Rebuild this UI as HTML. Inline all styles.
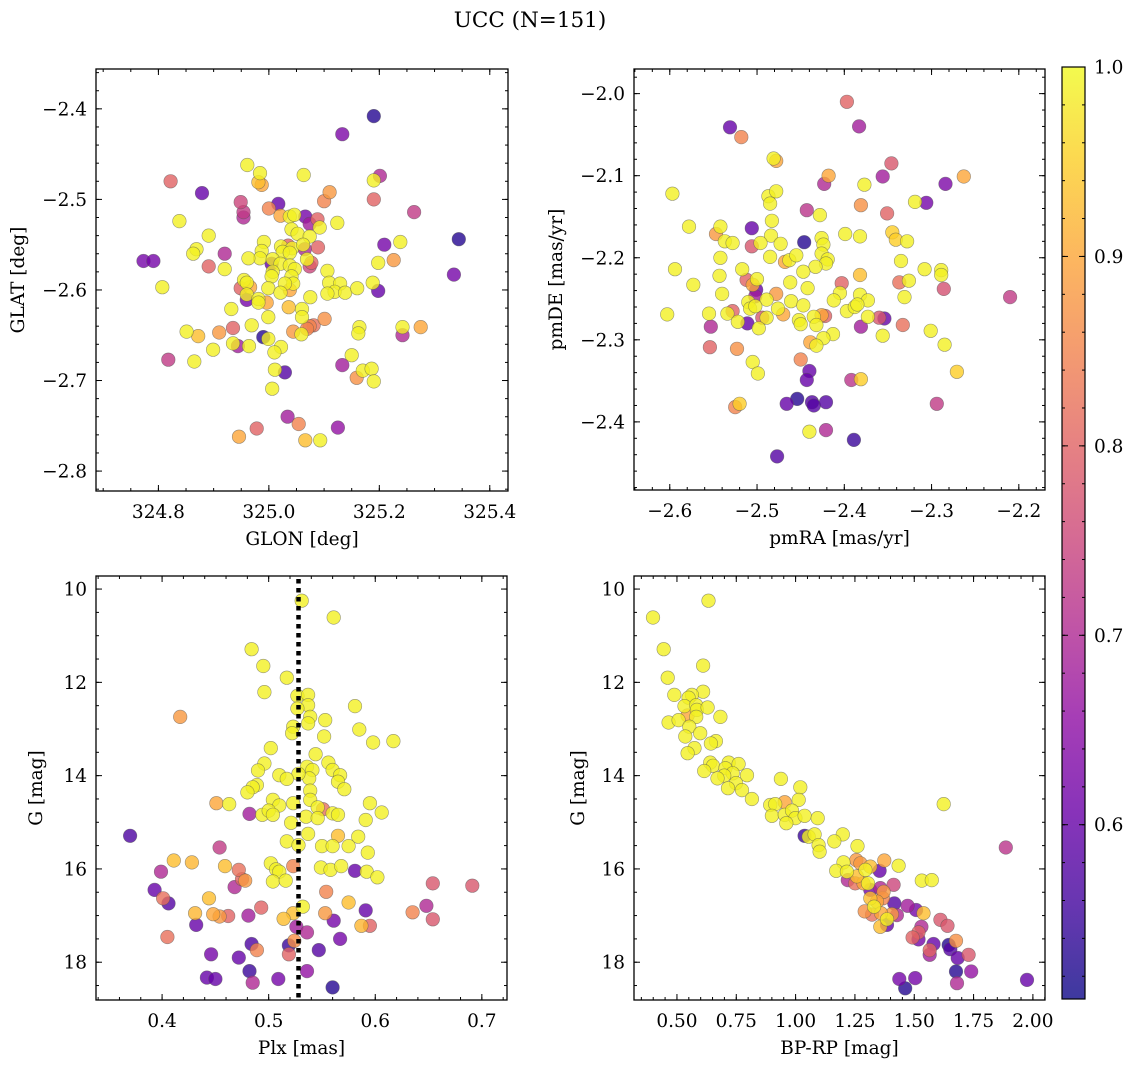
<!DOCTYPE html>
<html><head><meta charset="utf-8"><style>
html,body{margin:0;padding:0;background:#fff;}
svg{display:block;font-family:"DejaVu Serif","Liberation Serif",serif;}
</style></head><body>
<svg id="fig" width="1136" height="1067" viewBox="0 0 1136 1067" xmlns="http://www.w3.org/2000/svg">
<rect width="1136" height="1067" fill="#fff"/>
<text x="530" y="27" text-anchor="middle" font-size="21.5">UCC (N=151)</text>
<defs><linearGradient id="plasma" x1="0" y1="1" x2="0" y2="0">
<stop offset="0" stop-color="#0d0887"/><stop offset="0.1" stop-color="#41049d"/><stop offset="0.2" stop-color="#6a00a8"/><stop offset="0.3" stop-color="#8f0da4"/><stop offset="0.4" stop-color="#b12a90"/><stop offset="0.5" stop-color="#cc4778"/><stop offset="0.6" stop-color="#e16462"/><stop offset="0.7" stop-color="#f2844b"/><stop offset="0.8" stop-color="#fca636"/><stop offset="0.9" stop-color="#fcce25"/><stop offset="1" stop-color="#f0f921"/>
</linearGradient></defs>
<g id="layer"></g>
</svg>
<script>
// ---- Panel 1: GLON / GLAT ----
const glon=[325.190,325.133,324.961,324.984,324.981,324.987,325.063,324.822,325.190,325.201,324.879,325.110,325.100,325.190,324.949,324.954,324.954,325.0,325.017,325.021,325.038,325.046,325.066,325.074,325.088,325.092,325.124,325.263,324.838,324.891,325.041,325.052,325.074,325.238,325.209,325.344,324.869,324.863,324.920,324.991,325.022,325.035,325.042,325.062,325.065,325.089,324.987,324.984,325.025,325.038,324.773,324.791,324.963,325.007,325.005,325.069,325.077,325.074,325.198,325.226,324.891,324.920,325.021,325.038,325.047,325.106,325.335,325.007,325.005,325.041,325.044,324.955,324.960,324.949,324.966,324.999,325.029,325.038,325.021,325.109,325.129,325.119,325.106,325.138,325.160,325.188,325.198,324.807,324.960,324.960,324.981,324.996,324.981,325.075,324.932,325.036,325.060,325.060,324.999,325.101,325.074,325.081,325.069,324.969,324.935,325.044,325.059,325.164,325.162,325.242,325.242,325.275,324.851,324.872,324.910,324.990,324.999,324.935,324.944,324.964,325.022,324.899,325.010,324.818,324.865,325.150,325.133,325.011,325.029,325.170,325.186,325.159,325.190,325.006,325.034,325.054,325.125,324.978,324.946,325.066,325.093];
const glat=[-2.408,-2.428,-2.462,-2.471,-2.481,-2.484,-2.473,-2.480,-2.479,-2.474,-2.493,-2.492,-2.502,-2.500,-2.503,-2.514,-2.520,-2.510,-2.505,-2.518,-2.519,-2.517,-2.519,-2.527,-2.522,-2.531,-2.526,-2.514,-2.524,-2.540,-2.533,-2.538,-2.541,-2.547,-2.550,-2.544,-2.555,-2.560,-2.560,-2.547,-2.552,-2.551,-2.554,-2.550,-2.555,-2.553,-2.557,-2.565,-2.558,-2.559,-2.568,-2.568,-2.565,-2.566,-2.571,-2.566,-2.570,-2.574,-2.570,-2.567,-2.574,-2.577,-2.571,-2.573,-2.577,-2.579,-2.583,-2.580,-2.585,-2.585,-2.593,-2.589,-2.592,-2.598,-2.597,-2.598,-2.593,-2.600,-2.603,-2.592,-2.593,-2.602,-2.604,-2.603,-2.598,-2.592,-2.601,-2.597,-2.605,-2.611,-2.610,-2.614,-2.614,-2.608,-2.621,-2.619,-2.621,-2.630,-2.630,-2.632,-2.640,-2.639,-2.643,-2.639,-2.642,-2.646,-2.649,-2.641,-2.648,-2.641,-2.650,-2.641,-2.646,-2.651,-2.647,-2.652,-2.654,-2.659,-2.662,-2.662,-2.663,-2.666,-2.669,-2.677,-2.679,-2.672,-2.683,-2.688,-2.691,-2.689,-2.687,-2.697,-2.701,-2.709,-2.740,-2.748,-2.752,-2.753,-2.762,-2.766,-2.766];
const prob1=[0.53,0.63,0.99,0.99,0.93,0.9,0.99,0.8,0.99,0.7,0.6,0.88,0.85,0.8,0.75,0.73,0.7,0.85,0.6,0.9,0.99,0.99,0.62,0.68,0.8,0.99,0.99,0.73,0.99,0.99,0.99,0.99,0.99,0.99,0.62,0.53,0.99,0.99,0.7,0.99,0.99,0.8,0.99,0.99,0.7,0.8,0.99,0.99,0.99,0.99,0.62,0.62,0.99,0.99,0.6,0.99,0.8,0.75,0.99,0.88,0.8,0.99,0.99,0.99,0.99,0.99,0.62,0.99,0.99,0.99,0.99,0.99,0.99,0.8,0.9,0.99,0.99,0.9,0.99,0.99,0.99,0.99,0.99,0.99,0.99,0.99,0.6,0.99,0.99,0.62,0.99,0.9,0.99,0.99,0.99,0.93,0.99,0.99,0.99,0.87,0.85,0.82,0.85,0.99,0.8,0.88,0.99,0.99,0.99,0.99,0.7,0.9,0.99,0.93,0.88,0.53,0.99,0.99,0.68,0.99,0.99,0.99,0.99,0.73,0.99,0.99,0.68,0.99,0.58,0.99,0.99,0.87,0.99,0.99,0.68,0.85,0.66,0.8,0.9,0.93,0.99];

// ---- Panel 2: pmRA / pmDE ----
const pmra=[-2.397,-2.383,-2.531,-2.518,-2.481,-2.478,-2.346,-2.356,-2.418,-2.423,-2.377,-2.284,-2.263,-2.597,-2.487,-2.478,-2.485,-2.381,-2.319,-2.306,-2.443,-2.351,-2.428,-2.483,-2.578,-2.542,-2.547,-2.506,-2.484,-2.399,-2.382,-2.345,-2.341,-2.328,-2.537,-2.528,-2.506,-2.496,-2.473,-2.446,-2.426,-2.424,-2.426,-2.419,-2.421,-2.542,-2.485,-2.468,-2.463,-2.455,-2.433,-2.335,-2.594,-2.517,-2.447,-2.382,-2.308,-2.289,-2.289,-2.573,-2.543,-2.512,-2.500,-2.505,-2.501,-2.502,-2.462,-2.442,-2.403,-2.337,-2.326,-2.286,-2.210,-2.540,-2.478,-2.405,-2.382,-2.331,-2.510,-2.489,-2.461,-2.447,-2.412,-2.373,-2.508,-2.502,-2.397,-2.388,-2.385,-2.528,-2.534,-2.555,-2.603,-2.476,-2.470,-2.426,-2.422,-2.494,-2.489,-2.452,-2.435,-2.450,-2.432,-2.373,-2.360,-2.354,-2.522,-2.511,-2.553,-2.498,-2.381,-2.333,-2.301,-2.413,-2.424,-2.356,-2.439,-2.432,-2.285,-2.554,-2.523,-2.450,-2.505,-2.440,-2.443,-2.499,-2.392,-2.381,-2.271,-2.525,-2.520,-2.466,-2.454,-2.437,-2.435,-2.421,-2.294,-2.440,-2.421,-2.389,-2.477];
const pmde=[-2.010,-2.040,-2.041,-2.053,-2.079,-2.082,-2.085,-2.101,-2.100,-2.110,-2.111,-2.110,-2.101,-2.122,-2.125,-2.119,-2.134,-2.136,-2.132,-2.133,-2.142,-2.146,-2.148,-2.155,-2.162,-2.162,-2.171,-2.164,-2.173,-2.171,-2.174,-2.169,-2.178,-2.180,-2.180,-2.182,-2.186,-2.182,-2.183,-2.181,-2.176,-2.184,-2.195,-2.202,-2.207,-2.200,-2.199,-2.205,-2.203,-2.197,-2.211,-2.204,-2.214,-2.214,-2.217,-2.221,-2.214,-2.215,-2.221,-2.233,-2.222,-2.227,-2.226,-2.233,-2.239,-2.247,-2.230,-2.237,-2.231,-2.230,-2.228,-2.238,-2.248,-2.244,-2.244,-2.243,-2.245,-2.248,-2.254,-2.251,-2.253,-2.258,-2.252,-2.252,-2.262,-2.259,-2.265,-2.260,-2.257,-2.265,-2.268,-2.268,-2.269,-2.262,-2.269,-2.270,-2.271,-2.273,-2.273,-2.276,-2.272,-2.281,-2.282,-2.272,-2.273,-2.274,-2.278,-2.280,-2.284,-2.286,-2.284,-2.282,-2.289,-2.293,-2.298,-2.295,-2.303,-2.307,-2.306,-2.309,-2.311,-2.324,-2.327,-2.338,-2.349,-2.341,-2.349,-2.348,-2.339,-2.382,-2.378,-2.378,-2.372,-2.376,-2.380,-2.376,-2.378,-2.412,-2.410,-2.422,-2.442];
const prob2=[0.8,0.68,0.6,0.85,0.99,0.9,0.78,0.68,0.9,0.7,0.99,0.63,0.9,0.99,0.99,0.99,0.99,0.87,0.99,0.62,0.72,0.8,0.99,0.99,0.99,0.99,0.88,0.6,0.99,0.99,0.99,0.95,0.95,0.99,0.99,0.99,0.78,0.99,0.99,0.53,0.99,0.99,0.99,0.99,0.99,0.99,0.99,0.9,0.99,0.99,0.99,0.99,0.99,0.99,0.99,0.93,0.99,0.99,0.99,0.99,0.99,0.8,0.99,0.9,0.6,0.68,0.99,0.99,0.8,0.82,0.99,0.77,0.73,0.99,0.88,0.99,0.99,0.99,0.99,0.99,0.99,0.99,0.99,0.99,0.99,0.99,0.99,0.99,0.99,0.8,0.99,0.99,0.99,0.99,0.9,0.9,0.8,0.78,0.99,0.99,0.99,0.99,0.99,0.99,0.78,0.6,0.99,0.6,0.7,0.99,0.68,0.82,0.99,0.99,0.99,0.99,0.9,0.99,0.99,0.8,0.87,0.85,0.99,0.6,0.6,0.99,0.72,0.95,0.95,0.85,0.95,0.6,0.53,0.58,0.58,0.58,0.73,0.99,0.7,0.55,0.58];

// ---- Panel 3: Plx / G ----
const plx=[0.531,0.561,0.484,0.495,0.517,0.496,0.527,0.537,0.537,0.527,0.581,0.417,0.539,0.537,0.553,0.523,0.522,0.585,0.552,0.598,0.617,0.502,0.544,0.496,0.490,0.556,0.560,0.567,0.536,0.541,0.538,0.528,0.510,0.517,0.565,0.571,0.489,0.485,0.480,0.539,0.504,0.510,0.539,0.451,0.463,0.523,0.595,0.482,0.494,0.500,0.504,0.546,0.551,0.535,0.546,0.560,0.565,0.606,0.591,0.521,0.370,0.537,0.565,0.584,0.454,0.517,0.528,0.550,0.560,0.575,0.593,0.411,0.428,0.459,0.472,0.502,0.507,0.510,0.523,0.549,0.558,0.568,0.581,0.592,0.602,0.399,0.478,0.475,0.504,0.516,0.654,0.691,0.393,0.468,0.554,0.401,0.406,0.444,0.575,0.648,0.532,0.493,0.591,0.431,0.448,0.454,0.462,0.523,0.553,0.635,0.481,0.514,0.561,0.654,0.432,0.526,0.587,0.595,0.536,0.405,0.567,0.524,0.484,0.519,0.489,0.547,0.519,0.446,0.472,0.482,0.536,0.442,0.450,0.509,0.485,0.560];
const gmag3=[10.25,10.61,11.29,11.65,11.90,12.21,12.29,12.27,12.49,12.56,12.51,12.74,12.74,12.88,12.81,12.95,13.09,13.01,13.16,13.29,13.26,13.41,13.54,13.74,13.89,13.72,13.88,13.99,13.81,13.88,14.06,13.96,13.99,14.07,14.13,14.29,14.20,14.25,14.36,14.32,14.52,14.64,14.52,14.59,14.61,14.59,14.59,14.82,14.84,14.75,14.84,14.68,14.72,14.88,14.91,14.81,14.84,14.79,14.95,15.01,15.29,15.25,15.29,15.31,15.54,15.41,15.49,15.51,15.51,15.51,15.65,15.82,15.86,15.94,16.02,15.88,16.01,16.06,15.94,15.97,16.02,15.94,16.04,16.06,16.18,16.06,16.25,16.22,16.27,16.25,16.31,16.36,16.45,16.39,16.49,16.63,16.74,16.63,16.72,16.79,16.81,16.83,16.89,16.95,16.97,17.02,17.01,16.95,16.95,16.93,17.00,17.07,17.11,17.08,17.20,17.24,17.22,17.22,17.36,17.46,17.50,17.54,17.61,17.64,17.74,17.74,17.83,17.83,17.90,18.19,18.19,18.33,18.36,18.36,18.44,18.54];
const prob3=[0.99,0.99,0.99,0.99,0.99,0.99,0.99,0.99,0.99,0.99,0.99,0.88,0.99,0.99,0.99,0.99,0.99,0.99,0.99,0.99,0.99,0.99,0.99,0.99,0.99,0.99,0.99,0.99,0.99,0.99,0.99,0.99,0.99,0.99,0.99,0.99,0.99,0.99,0.99,0.99,0.99,0.99,0.99,0.9,0.99,0.99,0.99,0.68,0.99,0.99,0.99,0.99,0.82,0.99,0.99,0.99,0.99,0.99,0.99,0.99,0.57,0.99,0.93,0.99,0.73,0.99,0.99,0.99,0.99,0.99,0.99,0.93,0.92,0.93,0.82,0.99,0.99,0.99,0.85,0.99,0.99,0.99,0.6,0.99,0.99,0.7,0.88,0.8,0.99,0.99,0.78,0.78,0.6,0.7,0.85,0.82,0.58,0.93,0.93,0.7,0.99,0.8,0.6,0.92,0.9,0.88,0.8,0.93,0.88,0.85,0.68,0.93,0.62,0.78,0.6,0.68,0.92,0.8,0.7,0.82,0.62,0.87,0.57,0.55,0.85,0.58,0.8,0.62,0.6,0.55,0.66,0.6,0.6,0.62,0.7,0.53];

// ---- Panel 4: BP-RP / G ----
const bprp=[0.633,0.399,0.444,0.610,0.461,0.610,0.489,0.563,0.549,0.532,0.581,0.584,0.629,0.545,0.581,0.683,0.465,0.507,0.552,0.598,0.535,0.664,0.643,0.574,0.545,0.640,0.652,0.718,0.760,0.615,0.704,0.735,0.699,0.671,0.795,0.749,0.938,0.715,0.774,1.020,0.816,1.013,0.954,0.893,0.914,1.624,0.900,0.954,0.985,0.999,0.961,1.038,1.093,1.038,1.055,1.080,1.199,1.163,1.097,1.101,1.261,1.886,1.202,1.171,1.216,1.256,1.273,1.315,1.294,1.374,1.434,1.354,1.220,1.258,1.251,1.286,1.305,1.413,1.532,1.574,1.315,1.357,1.371,1.368,1.416,1.315,1.331,1.343,1.472,1.508,1.291,1.322,1.360,1.427,1.406,1.539,1.385,1.610,1.640,1.385,1.357,1.530,1.518,1.493,1.518,1.581,1.645,1.652,1.676,1.565,1.565,1.729,1.683,1.676,1.740,1.437,1.504,1.462,1.680,1.975];
const gmag4=[10.25,10.61,11.29,11.64,11.90,12.20,12.27,12.27,12.33,12.51,12.49,12.59,12.54,12.71,12.74,12.74,12.86,12.81,12.95,13.09,13.16,13.26,13.31,13.41,13.52,13.72,13.79,13.72,13.75,13.90,13.84,13.95,14.00,14.06,13.99,14.16,14.07,14.27,14.31,14.25,14.50,14.52,14.57,14.63,14.61,14.61,14.86,14.84,14.75,14.91,15.02,14.86,14.91,15.29,15.31,15.26,15.26,15.41,15.49,15.63,15.51,15.54,15.86,16.04,16.06,15.81,15.88,15.95,16.02,15.82,15.93,16.04,16.24,16.16,16.31,16.31,16.31,16.34,16.25,16.24,16.45,16.41,16.49,16.63,16.74,16.63,16.81,16.70,16.79,16.88,16.91,16.98,16.95,16.99,16.97,16.95,17.08,17.09,17.22,17.20,17.24,17.24,17.36,17.47,17.51,17.61,17.63,17.72,17.54,17.74,17.84,17.84,17.91,18.20,18.20,18.36,18.34,18.56,18.45,18.38];
const prob4=[0.99,0.99,0.99,0.99,0.99,0.99,0.99,0.99,0.99,0.99,0.99,0.99,0.99,0.9,0.99,0.99,0.99,0.99,0.99,0.99,0.99,0.99,0.99,0.99,0.99,0.99,0.99,0.99,0.99,0.99,0.99,0.99,0.99,0.99,0.99,0.99,0.99,0.99,0.99,0.99,0.99,0.99,0.9,0.99,0.99,0.99,0.99,0.99,0.99,0.99,0.99,0.99,0.99,0.55,0.99,0.99,0.99,0.99,0.99,0.99,0.99,0.72,0.99,0.99,0.99,0.88,0.88,0.93,0.99,0.9,0.99,0.6,0.7,0.93,0.82,0.9,0.99,0.75,0.99,0.99,0.62,0.7,0.88,0.85,0.58,0.93,0.99,0.9,0.68,0.62,0.87,0.82,0.9,0.7,0.88,0.93,0.99,0.78,0.78,0.6,0.93,0.7,0.8,0.8,0.62,0.6,0.53,0.58,0.87,0.8,0.68,0.78,0.6,0.53,0.66,0.62,0.62,0.53,0.7,0.6];

const cbTicks=[0.6,0.7,0.8,0.9,1.0];
const VMIN=0.508, VMAX=1.0;

const NS='http://www.w3.org/2000/svg';
const layer=document.getElementById('layer');
const FS=18.5;
function mk(tag,attrs,parent){const e=document.createElementNS(NS,tag);for(const k in attrs)e.setAttribute(k,attrs[k]);(parent||layer).appendChild(e);return e;}
const stops=['#0d0887','#41049d','#6a00a8','#8f0da4','#b12a90','#cc4778','#e16462','#f2844b','#fca636','#fcce25','#f0f921'];
function hex(h){return [parseInt(h.substr(1,2),16),parseInt(h.substr(3,2),16),parseInt(h.substr(5,2),16)];}
function plasma(v){let t=(v-VMIN)/(VMAX-VMIN);t=Math.max(0,Math.min(1,t));const f=t*10,i=Math.min(9,Math.floor(f)),r=f-i;const a=hex(stops[i]),b=hex(stops[i+1]);return 'rgb('+a.map((x,k)=>Math.round(x+(b[k]-x)*r)).join(',')+')';}
function fmt(v,d){const s=Math.abs(v).toFixed(d);return (v<-1e-9?'\u2212':'')+s;}

function panel(o){
  const g=mk('g',{});
  
  
  const sx=v=>o.L+(v-o.x0)/(o.x1-o.x0)*(o.R-o.L);
  const sy=v=>o.T+(v-o.y0)/(o.y1-o.y0)*(o.B-o.T);
  const pg=mk('g',{},g);
  
  
  const n=Math.min(o.xs.length,o.ys.length,o.cs.length);
  const idx=[...Array(n).keys()].sort((a,b)=>o.cs[a]-o.cs[b]);
  for(const i of idx){
    const c=mk('circle',{cx:sx(o.xs[i]).toFixed(1),cy:sy(o.ys[i]).toFixed(1),r:6.8,fill:plasma(o.cs[i]),'fill-opacity':0.8,stroke:'#555','stroke-opacity':0.6,'stroke-width':0.6},pg);
    
    
  }
  if(o.vline!==undefined){
    const l=mk('line',{x1:sx(o.vline),x2:sx(o.vline),y1:o.T+3,y2:o.B,stroke:'#000','stroke-width':4.5,'stroke-dasharray':'4.5 4.5'},g);
    
    
  }
  const fr=mk('rect',{x:o.L,y:o.T,width:o.R-o.L,height:o.B-o.T,fill:'none',stroke:'#000','stroke-width':1.3},g);
  
  
  const tg=mk('g',{stroke:'#000','stroke-width':1},g);
  const eps=1e-9;
  for(let v=Math.ceil(o.x0/o.xminor-eps)*o.xminor;v<=o.x1+eps;v+=o.xminor){const x=sx(v);mk('line',{x1:x,x2:x,y1:o.B,y2:o.B-3},tg);mk('line',{x1:x,x2:x,y1:o.T,y2:o.T+3},tg);}
  const ylo=Math.min(o.y0,o.y1),yhi=Math.max(o.y0,o.y1);
  for(let v=Math.ceil(ylo/o.yminor-eps)*o.yminor;v<=yhi+eps;v+=o.yminor){const y=sy(v);mk('line',{x1:o.L,x2:o.L+3,y1:y,y2:y},tg);mk('line',{x1:o.R,x2:o.R-3,y1:y,y2:y},tg);}
  o.xticks.forEach(v=>{const x=sx(v);mk('line',{x1:x,x2:x,y1:o.B,y2:o.B-6},tg);mk('line',{x1:x,x2:x,y1:o.T,y2:o.T+6},tg);
    const t=mk('text',{x:x,y:o.B+27,'text-anchor':'middle','font-size':FS},g);t.textContent=fmt(v,o.xd);
    
    });
  o.yticks.forEach(v=>{const y=sy(v);mk('line',{x1:o.L,x2:o.L+6,y1:y,y2:y},tg);mk('line',{x1:o.R,x2:o.R-6,y1:y,y2:y},tg);
    const t=mk('text',{x:o.L-9,y:y+6.5,'text-anchor':'end','font-size':FS},g);t.textContent=fmt(v,o.yd);
    
    });
  const xl=mk('text',{x:(o.L+o.R)/2,y:o.B+54,'text-anchor':'middle','font-size':FS},g);xl.textContent=o.xlabel;
  
  
  const yx=o.ylx, yy=(o.T+o.B)/2;
  const yl=mk('text',{x:yx,y:yy,'text-anchor':'middle','font-size':FS,transform:'rotate(-90 '+yx+' '+yy+')'},g);yl.textContent=o.ylabel;
  
  
}

panel({name:'panel-sky-position',L:96,R:508,T:69,B:491,x0:324.687,x1:325.433,y0:-2.356,y1:-2.822,xs:glon,ys:glat,cs:prob1,
  xticks:[324.8,325.0,325.2,325.4],xd:1,yticks:[-2.4,-2.5,-2.6,-2.7,-2.8],yd:1,xminor:0.05,yminor:0.02,xlabel:'GLON [deg]',ylabel:'GLAT [deg]',ylx:24});
panel({name:'panel-proper-motion',L:634,R:1045,T:69,B:490,x0:-2.641,x1:-2.170,y0:-1.970,y1:-2.483,xs:pmra,ys:pmde,cs:prob2,
  xticks:[-2.6,-2.5,-2.4,-2.3,-2.2],xd:1,yticks:[-2.0,-2.1,-2.2,-2.3,-2.4],yd:1,xminor:0.02,yminor:0.02,xlabel:'pmRA [mas/yr]',ylabel:'pmDE [mas/yr]',ylx:562});
panel({name:'panel-parallax-mag',L:96,R:507,T:576,B:1000,x0:0.338,x1:0.7236,y0:9.72,y1:18.81,xs:plx,ys:gmag3,cs:prob3,
  xticks:[0.4,0.5,0.6,0.7],xd:1,yticks:[10,12,14,16,18],yd:0,xminor:0.02,yminor:0.5,xlabel:'Plx [mas]',ylabel:'G [mag]',ylx:42,vline:0.528});
panel({name:'panel-cmd',L:634,R:1045,T:576,B:1000,x0:0.319,x1:2.051,y0:9.72,y1:18.81,xs:bprp,ys:gmag4,cs:prob4,
  xticks:[0.5,0.75,1.0,1.25,1.5,1.75,2.0],xd:2,yticks:[10,12,14,16,18],yd:0,xminor:0.05,yminor:0.5,xlabel:'BP-RP [mag]',ylabel:'G [mag]',ylx:584});

const cb=mk('g',{});


const CT=67,CB=999,CL=1062,CR=1085;
mk('rect',{x:CL,y:CT,width:CR-CL,height:CB-CT,fill:'url(#plasma)','fill-opacity':0.8},cb);
mk('rect',{x:CL,y:CT,width:CR-CL,height:CB-CT,fill:'none',stroke:'#000','stroke-width':1.2},cb);
const cy=v=>CB-(v-VMIN)/(VMAX-VMIN)*(CB-CT);
for(let v=0.52;v<=1.0001;v+=0.02){mk('line',{x1:CR,x2:CR-3,y1:cy(v),y2:cy(v),stroke:'#000','stroke-width':1},cb);mk('line',{x1:CL,x2:CL+3,y1:cy(v),y2:cy(v),stroke:'#000','stroke-width':1},cb);}
cbTicks.forEach(v=>{const y=cy(v);mk('line',{x1:CR,x2:CR-6,y1:y,y2:y,stroke:'#000','stroke-width':1},cb);mk('line',{x1:CL,x2:CL+6,y1:y,y2:y,stroke:'#000','stroke-width':1},cb);
  const t=mk('text',{x:CR+9,y:y+6.5,'font-size':FS},cb);t.textContent=v.toFixed(1);
  
  });
</script>
</body></html>
